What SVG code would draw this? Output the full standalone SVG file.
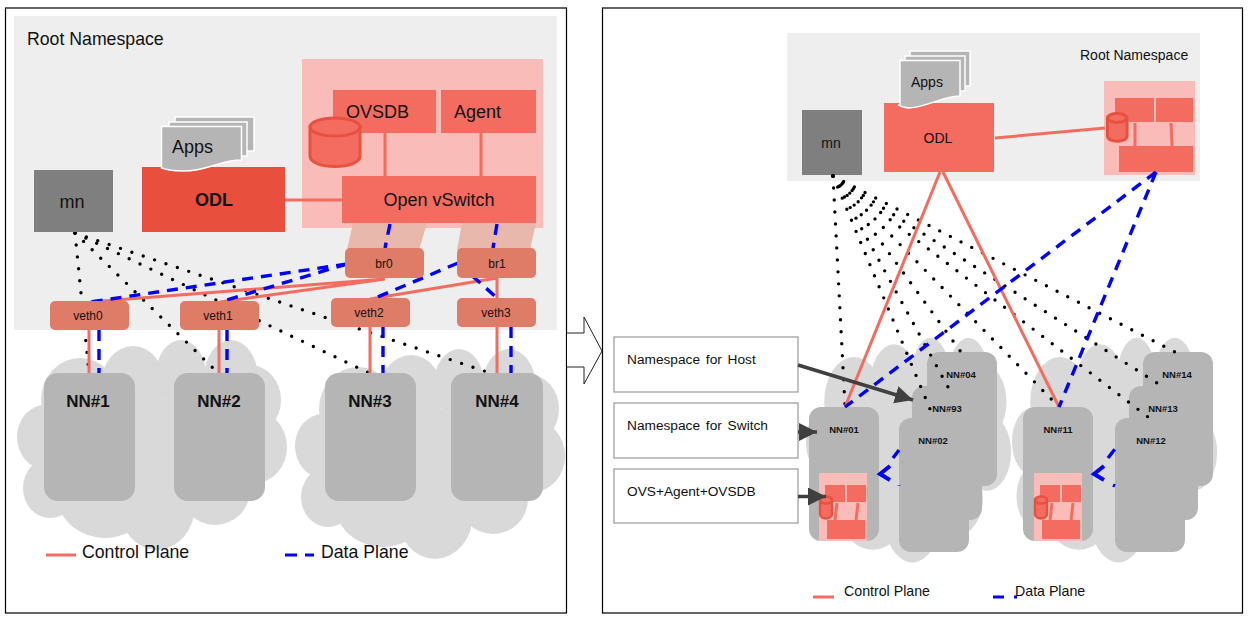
<svg xmlns="http://www.w3.org/2000/svg" width="1248" height="622" viewBox="0 0 1248 622">
<style>
text{font-family:"Liberation Sans",Arial,sans-serif;fill:#111}
.m{text-anchor:middle}
.b{font-weight:bold}
.frame{fill:none;stroke:#000;stroke-width:1.2}
.root{fill:#eee}
.pink{fill:#f9bcb9}
.red{fill:#f46c60}
.dark{fill:#e84f3d}
.mn{fill:#7f7f7f}
.nn{fill:#b5b5b5}
.sal{fill:#df7c68}
.trap{fill:#e8b8ad}
.cp{fill:none;stroke:#f46c60;stroke-width:3}
.dp{fill:none;stroke:#0000ff;stroke-width:3.4;stroke-dasharray:11 8}
.hd{fill:none;stroke:#0000ff;stroke-width:4}
.dot{fill:none;stroke:#000;stroke-width:3.4;stroke-linecap:round;stroke-dasharray:0 12}
.lbl{fill:#fff;stroke:#999;stroke-width:1.2}
.ar{fill:none;stroke:#404040;stroke-width:3.5}
.cyl{fill:#f46c60;stroke:#e8503f}
.page{fill:#b5b5b5;stroke:#fff;stroke-width:1.5}
</style>
<defs>
<marker id="ah" markerUnits="userSpaceOnUse" markerWidth="20" markerHeight="20" refX="18" refY="9" orient="auto"><path d="M0,0L18,9L0,18Z" fill="#404040"/></marker>
<g id="cloud" fill="#d9d9d9">
<ellipse cx="45" cy="437" rx="28" ry="32"/><ellipse cx="50" cy="488" rx="27" ry="30"/><ellipse cx="80" cy="400" rx="39" ry="42"/><ellipse cx="133" cy="385" rx="32" ry="39"/><ellipse cx="181" cy="375" rx="25" ry="35"/><ellipse cx="231" cy="378" rx="27" ry="38"/><ellipse cx="250" cy="400" rx="31" ry="35"/><ellipse cx="255" cy="447" rx="32" ry="36"/><ellipse cx="215" cy="490" rx="35" ry="35"/><ellipse cx="157" cy="505" rx="38" ry="45"/><ellipse cx="105" cy="490" rx="50" ry="48"/><rect x="70" y="400" width="170" height="100"/>
</g>
<g id="mini">
<rect class="pink" x="0" y="0" width="48" height="68"/>
<rect class="red" x="6" y="12" width="20" height="17"/><rect class="red" x="28" y="12" width="19" height="17"/><rect class="red" x="8" y="47" width="38" height="19"/>
<path class="cp" d="M18,30L16,47M39,30L37,47"/>
<path class="cyl" stroke-width="2.4" d="M1,27V41C1,47,13,47,13,41V27Z"/><ellipse class="cyl" stroke-width="2.4" cx="7" cy="27" rx="6" ry="3.5"/>
</g>
</defs>

<rect class="frame" x="5.5" y="8" width="561" height="605"/>
<rect class="frame" x="602.5" y="8" width="640" height="605"/>
<path id="transition" d="M567,333H584V317L602,351L584,384V367H567" fill="#fff" stroke="#222" stroke-width="1"/>

<!-- left backdrops -->
<rect class="root" x="14" y="16" width="543" height="314"/>
<rect class="pink" x="302" y="59" width="241" height="169"/>
<path class="trap" d="M353,223H427L419,250H347Z"/>
<path class="trap" d="M462,223H536L530,250H457Z"/>
<use href="#cloud"/>
<use href="#cloud" transform="translate(278,9)"/>
<!-- right backdrops -->
<rect class="root" x="787" y="33" width="413" height="148"/>
<use href="#cloud" transform="translate(793,-26) scale(0.76,1.07)"/>
<use href="#cloud" transform="translate(999,-26) scale(0.76,1.07)"/>

<g id="connectors-left">
<path class="dot" d="M75,233L89,373"/>
<path class="dot" d="M75,233L215,370"/>
<path class="dot" d="M75,233L369,373"/>
<path class="dot" d="M75,233L490,373"/>
<path class="cp" d="M285,200H342M385,133V176M481,133V176M385,279L90,302M385,279L220,302M497,278L370,299M497,278V298M89,330V373M219,330V373M370,327V373M497,327V373"/>
<path class="dp" d="M390,224L385,248M497,224L493,248M347,264L90,302M347,264L220,302M458,263L373,299M458,263L497,298M99,330V373M227,330V373M383,327V373M511,327V373"/>
</g>

<g id="root-label-left"><text x="27" y="45" font-size="17.700">Root Namespace</text></g>
<g id="ovsdb"><rect class="red" x="333" y="90" width="103" height="43"/><text x="346" y="118" font-size="18">OVSDB</text></g>
<g id="agent"><rect class="red" x="441" y="90" width="95" height="43"/><text x="454" y="118" font-size="18">Agent</text></g>
<g id="ovsdb-cyl"><path class="cyl" stroke-width="3" d="M310,127V156C310,170,360,170,360,156V127Z"/><ellipse class="cyl" stroke-width="3" cx="335" cy="127" rx="25" ry="9"/></g>
<g id="ovs"><rect class="red" x="342" y="176" width="194" height="47"/><text class="m" x="439" y="206" font-size="18">Open vSwitch</text></g>
<g id="mn-left"><rect class="mn" x="34" y="170" width="79" height="62"/><text class="m" x="72" y="208" font-size="18">mn</text></g>
<g id="odl-left"><rect class="dark" x="142" y="167" width="143" height="65"/><text class="m b" x="214" y="206" font-size="18">ODL</text></g>
<g id="apps-left">
<rect x="175" y="117" width="79" height="34" class="page"/><rect x="169" y="122" width="78" height="34" class="page"/>
<path class="page" d="M161.500,126.500H241.500V160C220,160 205,172 182,171Q170,171 161.500,168Z"/>
<text x="172" y="153" font-size="18">Apps</text>
</g>
<g id="br0"><rect class="sal" x="345" y="248" width="79" height="30" rx="5"/><text class="m" x="384" y="268" font-size="12">br0</text></g>
<g id="br1"><rect class="sal" x="457" y="248" width="79" height="30" rx="5"/><text class="m" x="497" y="268" font-size="12">br1</text></g>
<g id="veth0"><rect class="sal" x="50" y="301" width="79" height="29" rx="5"/><text class="m" x="88" y="320" font-size="12">veth0</text></g>
<g id="veth1"><rect class="sal" x="180" y="301" width="79" height="29" rx="5"/><text class="m" x="218" y="320" font-size="12">veth1</text></g>
<g id="veth2"><rect class="sal" x="331" y="298" width="79" height="29" rx="5"/><text class="m" x="369" y="317" font-size="12">veth2</text></g>
<g id="veth3"><rect class="sal" x="457" y="298" width="79" height="29" rx="5"/><text class="m" x="496" y="317" font-size="12">veth3</text></g>
<g id="nn1"><rect class="nn" x="44" y="373" width="91" height="128" rx="14"/><text class="m b" x="88" y="407" font-size="17">NN#1</text></g>
<g id="nn2"><rect class="nn" x="174" y="373" width="91" height="128" rx="14"/><text class="m b" x="219" y="407" font-size="17">NN#2</text></g>
<g id="nn3"><rect class="nn" x="325" y="373" width="91" height="128" rx="14"/><text class="m b" x="370" y="407" font-size="17">NN#3</text></g>
<g id="nn4"><rect class="nn" x="451" y="373" width="92" height="128" rx="14"/><text class="m b" x="497" y="407" font-size="17">NN#4</text></g>
<g id="legend-left">
<path class="cp" d="M46,555H76"/><text x="82" y="558" font-size="17.700">Control Plane</text>
<path fill="none" stroke="#00f" stroke-width="3" d="M285,555H297M305,555H314"/><text x="321" y="558" font-size="17.700">Data Plane</text>
</g>

<!-- right -->
<g id="root-label-right"><text x="1080" y="60" font-size="14">Root Namespace</text></g>
<g id="mn-right"><rect class="mn" x="802" y="110" width="60" height="65"/><text class="m" x="831" y="148" font-size="14">mn</text></g>
<g id="odl-right"><rect class="red" x="884" y="103" width="110" height="69"/><text class="m" x="938" y="143" font-size="14">ODL</text></g>
<g id="apps-right">
<rect x="910" y="51" width="60" height="35" class="page"/><rect x="905" y="56" width="60" height="35" class="page"/>
<path class="page" d="M900,60.500H960V96C940,97 925,108 908,108Q902,107 898,105H900Z"/>
<text x="911" y="87" font-size="14">Apps</text>
</g>
<g id="ovs-right">
<rect class="pink" x="1104" y="81" width="91" height="94"/>
<rect class="red" x="1115" y="98" width="39" height="24"/><rect class="red" x="1156" y="98" width="37" height="24"/><rect class="red" x="1119" y="146" width="74" height="26"/>
<path class="cp" d="M1135,123V146M1171,123L1172,146"/>
<path class="cyl" stroke-width="3" d="M1107.500,118V136C1107.500,143,1127,143,1127,136V118Z"/><ellipse class="cyl" stroke-width="3" cx="1117" cy="118" rx="9.500" ry="4.500"/>
</g>
<g id="nn04"><rect class="nn" x="927" y="352" width="70" height="134" rx="12"/><text class="m b" x="961" y="378" font-size="9.500">NN#04</text></g>
<g id="nn93"><rect class="nn" x="912" y="386" width="70" height="134" rx="12"/><text class="m b" x="947" y="412" font-size="9.500">NN#93</text></g>
<g id="nn02"><rect class="nn" x="899" y="418" width="70" height="134" rx="12"/><text class="m b" x="933" y="444" font-size="9.500">NN#02</text></g>
<g id="nn14"><rect class="nn" x="1143" y="352" width="70" height="134" rx="12"/><text class="m b" x="1177" y="378" font-size="9.500">NN#14</text></g>
<g id="nn13"><rect class="nn" x="1129" y="386" width="69" height="134" rx="12"/><text class="m b" x="1163" y="412" font-size="9.500">NN#13</text></g>
<g id="nn12"><rect class="nn" x="1115" y="418" width="70" height="134" rx="12"/><text class="m b" x="1151" y="444" font-size="9.500">NN#12</text></g>
<g id="nn01"><rect class="nn" x="809" y="407" width="70" height="134" rx="12"/><text class="m b" x="844" y="433" font-size="9.500">NN#01</text><use href="#mini" transform="translate(819,473)"/></g>
<g id="nn11"><rect class="nn" x="1023" y="407" width="70" height="134" rx="12"/><text class="m b" x="1058" y="433" font-size="9.500">NN#11</text><use href="#mini" transform="translate(1034,473)"/></g>

<g id="ns-host"><rect class="lbl" x="614" y="337" width="184" height="55"/><text x="627" y="364" font-size="13.700" style="word-spacing:2px">Namespace for Host</text></g>
<g id="ns-switch"><rect class="lbl" x="614" y="403" width="184" height="55"/><text x="627" y="430" font-size="13.700" style="word-spacing:2px">Namespace for Switch</text></g>
<g id="ovs-agent"><rect class="lbl" x="614" y="469" width="184" height="54"/><text x="627" y="496" font-size="13.700">OVS+Agent+OVSDB</text></g>

<g id="connectors-right">
<path class="dot" d="M833,176L845,406"/>
<path class="dot" d="M833,176L930,409"/>
<path class="dot" d="M833,176L948,387"/>
<path class="dot" d="M833,176L961,352"/>
<path class="dot" d="M833,176L1059,407"/>
<path class="dot" d="M833,176L1148,417"/>
<path class="dot" d="M833,176L1157,383"/>
<path class="dot" d="M833,176L1175,352"/>
<path class="cp" d="M995,138L1105,128M940,172L845,407M943,172L1059,407"/>
<path class="dp" d="M1156,172L845,407M1156,172L1059,407"/>
<path class="hd" d="M890,466L880,474L890,480M1104,466L1094,474L1104,480"/>
<path class="dp" d="M893,458L899,450M899,485.500L899,486M1108,458L1115,449M1113,485L1115,486"/>
<path class="ar" marker-end="url(#ah)" d="M798,365L913,400"/>
<path class="ar" marker-end="url(#ah)" d="M798,432H817"/>
<path class="ar" marker-end="url(#ah)" d="M798,496.500H826"/>
</g>
<g id="legend-right">
<path class="cp" d="M813,597H834"/><text x="844" y="596" font-size="14.200">Control Plane</text>
<path fill="none" stroke="#00f" stroke-width="3" d="M993,597H1004M1014,597H1017"/><text x="1015" y="596" font-size="14.200">Data Plane</text>
</g>
</svg>
